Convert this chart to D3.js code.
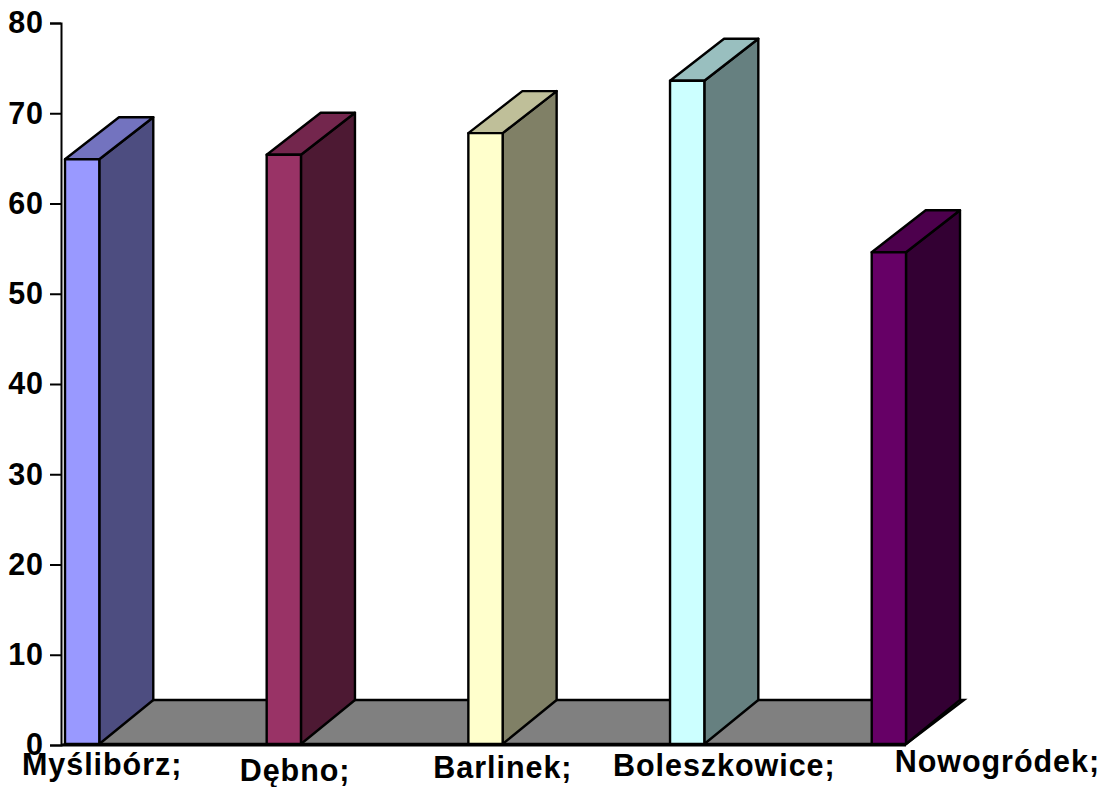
<!DOCTYPE html>
<html>
<head>
<meta charset="utf-8">
<script src="https://cdn.jsdelivr.net/npm/d3@7.9.0/dist/d3.min.js"></script>
<style>
  html, body { margin: 0; padding: 0; background: #fff; }
  svg { display: block; }
  text { font-family: "Liberation Sans", Arial, sans-serif; font-weight: bold; fill: #000; letter-spacing: 0.95px; }
</style>
</head>
<body>
<div id="chart"></div>
<script>
const towns = ['Myślibórz;', 'Dębno;', 'Barlinek;', 'Boleszkowice;', 'Nowogródek;'];
const values = [64.9, 65.4, 67.8, 73.6, 54.6];
const yTicks = [0, 10, 20, 30, 40, 50, 60, 70, 80];

const frontColors = ['#9999ff', '#993366', '#ffffcc', '#ccffff', '#660066'];
const topColors = ['#7373bf', '#73264d', '#bfbf99', '#99bfbf', '#4d004d'];
const sideColors = ['#4d4d80', '#4d1933', '#808066', '#668080', '#330033'];

// labels sit unevenly in the original, offsets from the bar's left edge
const labelDx = [-43, -27, -35, -57, 23];
const labelY = [775, 781, 778, 776, 772];

const width = 1107;
const height = 787;
const axisX = 61;
const depthX = 54;
const depthTop = 42;
const depthFloor = 44;
const fontSize = 30.5;

const svg = d3.select('#chart').append('svg')
  .attr('width', width)
  .attr('height', height);

const x = d3.scaleBand()
  .domain(towns)
  .range([65, 906])
  .paddingInner(0.83)
  .paddingOuter(0)
  .align(0);

const y = d3.scaleLinear()
  .domain([0, 80])
  .range([745, 23]);

const line = d3.line();

// floor
const floorRight = x(towns[4]) + x.bandwidth();
svg.append('path')
  .attr('d', line([
    [axisX + 4, y(0) - 1],
    [axisX + 4 + depthX, y(0) - depthFloor - 1],
    [floorRight + depthX + 4, y(0) - depthFloor - 1],
    [floorRight, y(0) - 1],
  ]) + 'Z')
  .attr('fill', '#808080')
  .attr('stroke', '#000')
  .attr('stroke-width', 2.4);

// bars
const bars = svg.append('g').selectAll('g')
  .data(towns)
  .join('g');

bars.append('path') // side
  .attr('d', (d, i) => {
    const x1 = x(d) + x.bandwidth();
    const t = y(values[i]);
    return line([
      [x1, t],
      [x1 + depthX, t - depthTop],
      [x1 + depthX, y(0) - depthFloor - 1],
      [x1, y(0) - 1],
    ]) + 'Z';
  })
  .attr('fill', (d, i) => sideColors[i]);

bars.append('path') // top
  .attr('d', (d, i) => {
    const x0 = x(d);
    const t = y(values[i]);
    return line([
      [x0, t],
      [x0 + depthX, t - depthTop],
      [x0 + x.bandwidth() + depthX, t - depthTop],
      [x0 + x.bandwidth(), t],
    ]) + 'Z';
  })
  .attr('fill', (d, i) => topColors[i]);

bars.append('rect') // front
  .attr('x', d => x(d))
  .attr('y', (d, i) => y(values[i]))
  .attr('width', x.bandwidth())
  .attr('height', (d, i) => y(0) - 1 - y(values[i]))
  .attr('fill', (d, i) => frontColors[i]);

bars.selectAll('path, rect')
  .attr('stroke', '#000')
  .attr('stroke-width', 2.4)
  .attr('stroke-linejoin', 'round');

// axes
const yAxis = d3.axisLeft(y)
  .tickValues(yTicks)
  .tickSize(11)
  .tickSizeOuter(11)
  .tickPadding(6);

const yG = svg.append('g')
  .attr('transform', `translate(${axisX},0)`)
  .call(yAxis);

yG.selectAll('path, line')
  .attr('stroke', '#000')
  .attr('stroke-width', 2);
yG.selectAll('text')
  .attr('font-size', fontSize)
  .style('font-size', fontSize + 'px');

svg.append('line')
  .attr('x1', axisX)
  .attr('x2', floorRight)
  .attr('y1', y(0))
  .attr('y2', y(0))
  .attr('stroke', '#000')
  .attr('stroke-width', 3);

svg.append('g').selectAll('text')
  .data(towns)
  .join('text')
  .attr('x', (d, i) => x(d) + labelDx[i])
  .attr('y', (d, i) => labelY[i])
  .attr('font-size', fontSize)
  .text(d => d);
</script>
</body>
</html>
